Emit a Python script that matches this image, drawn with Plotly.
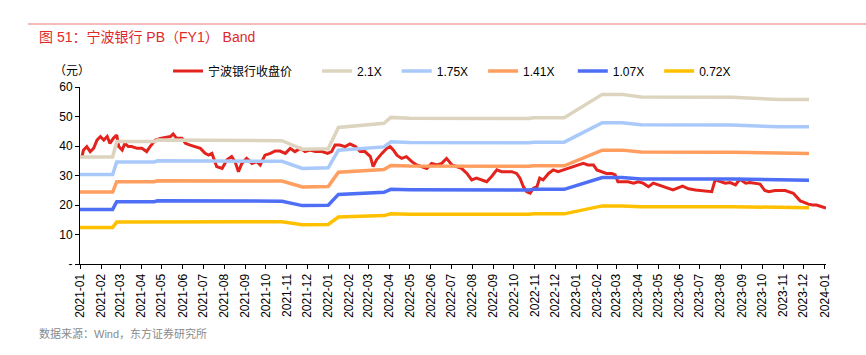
import plotly.graph_objects as go

# ---- close price (宁波银行收盘价) ----
price_dates = [
    "2021-01-04", "2021-01-06", "2021-01-11", "2021-01-16", "2021-01-21", "2021-01-26", "2021-01-31",
    "2021-02-05", "2021-02-10", "2021-02-14", "2021-02-19", "2021-02-24", "2021-02-27",
    "2021-03-04", "2021-03-08", "2021-03-13", "2021-03-18", "2021-03-26",
    "2021-04-02", "2021-04-09", "2021-04-14", "2021-04-22", "2021-04-29",
    "2021-05-06", "2021-05-14", "2021-05-18", "2021-05-23", "2021-05-31",
    "2021-06-05", "2021-06-12", "2021-06-19", "2021-06-27",
    "2021-07-04", "2021-07-09", "2021-07-14", "2021-07-21", "2021-07-29",
    "2021-08-05", "2021-08-12", "2021-08-17", "2021-08-22", "2021-08-27",
    "2021-09-03", "2021-09-11", "2021-09-18", "2021-09-23", "2021-09-30",
    "2021-10-08", "2021-10-15", "2021-10-22", "2021-10-30",
    "2021-11-06", "2021-11-13", "2021-11-21", "2021-11-28",
    "2021-12-05", "2021-12-13", "2021-12-23", "2021-12-31",
    "2022-01-06", "2022-01-11", "2022-01-18", "2022-01-26",
    "2022-02-02", "2022-02-10", "2022-02-17", "2022-02-24",
    "2022-03-04", "2022-03-08", "2022-03-13", "2022-03-21", "2022-03-28",
    "2022-04-02", "2022-04-07", "2022-04-12", "2022-04-19", "2022-04-26",
    "2022-05-04", "2022-05-11", "2022-05-19", "2022-05-26",
    "2022-06-02", "2022-06-10", "2022-06-17", "2022-06-24",
    "2022-07-02", "2022-07-09", "2022-07-16", "2022-07-24", "2022-07-31",
    "2022-08-07", "2022-08-15", "2022-08-22", "2022-08-29",
    "2022-09-06", "2022-09-13", "2022-09-20", "2022-09-28",
    "2022-10-05", "2022-10-10", "2022-10-15", "2022-10-20", "2022-10-25", "2022-10-30",
    "2022-11-04", "2022-11-08", "2022-11-13", "2022-11-21", "2022-11-28",
    "2022-12-05", "2022-12-13", "2022-12-20", "2022-12-27",
    "2023-01-04", "2023-01-11", "2023-01-18", "2023-01-26", "2023-01-31",
    "2023-02-07", "2023-02-14", "2023-02-22", "2023-02-27",
    "2023-03-03", "2023-03-11", "2023-03-18", "2023-03-26",
    "2023-04-02", "2023-04-09", "2023-04-17", "2023-04-24",
    "2023-05-01", "2023-05-09", "2023-05-16", "2023-05-23",
    "2023-06-06", "2023-06-15", "2023-06-25",
    "2023-07-05", "2023-07-15", "2023-07-19", "2023-07-24", "2023-07-31",
    "2023-08-08", "2023-08-15", "2023-08-23", "2023-08-29",
    "2023-09-07", "2023-09-13", "2023-09-20", "2023-09-28",
    "2023-10-05", "2023-10-11", "2023-10-20",
    "2023-11-04", "2023-11-16", "2023-11-26",
    "2023-12-01", "2023-12-08", "2023-12-14", "2023-12-20", "2023-12-28", "2024-01-03",
]
price_values = [
    36.4, 38.6, 39.8, 38.1, 39.2, 42.0, 43.2,
    42.0, 43.2, 40.9, 42.6, 43.7, 39.8,
    38.6, 40.9, 39.8, 39.8, 39.2,
    39.2, 38.1, 39.8, 42.0, 42.6,
    42.9, 43.2, 44.1, 42.6, 42.6,
    40.9, 40.3, 39.8, 39.2,
    37.5, 36.9, 37.5, 33.0, 32.4,
    35.3, 36.4, 34.7, 31.3, 34.1,
    35.8, 34.1, 34.7, 33.6, 36.9,
    37.5, 38.3, 38.3, 37.5,
    39.2, 38.1, 39.2, 38.1,
    38.6, 38.1, 38.1, 37.5,
    38.1, 40.3, 40.3, 39.8,
    40.7, 39.8, 38.1, 38.1,
    36.4, 33.0, 35.3, 37.5, 39.2,
    39.8, 38.6, 36.9, 35.8, 36.4,
    34.7, 33.6, 33.0, 32.4,
    34.1, 33.6, 34.1, 35.8,
    33.6, 33.0, 32.4, 30.7, 28.5,
    29.1, 28.5, 27.9, 29.6,
    31.9, 31.3, 31.3, 31.3,
    30.7, 29.1, 26.2, 24.5, 24.0, 25.7,
    26.2, 29.1, 28.5, 30.7, 31.9,
    31.3, 31.9, 32.4, 33.0,
    33.6, 34.1, 33.6, 33.6, 31.9,
    31.3, 30.7, 30.7, 30.2,
    27.9, 27.9, 27.9, 27.4,
    27.9, 27.4, 26.2, 27.4,
    26.8, 26.2, 25.7, 25.1,
    26.4, 25.5, 25.1,
    24.9, 24.5, 24.5, 28.5, 28.0,
    27.4, 27.6, 26.8, 28.7,
    27.4, 27.6, 27.4, 27.1,
    24.9, 24.5, 24.9,
    24.9, 24.0, 21.4,
    21.0, 20.3, 20.0, 20.0, 19.4, 19.0,
]

# ---- PB bands ----
band_dates = [
    "2021-01-01", "2021-02-18", "2021-02-24", "2021-04-20", "2021-04-25",
    "2021-10-25", "2021-11-24", "2022-01-01", "2022-01-16", "2022-03-24",
    "2022-04-03", "2022-05-01", "2022-10-23", "2022-10-30", "2022-12-14",
    "2023-02-08", "2023-03-09", "2023-04-06", "2023-08-18", "2023-10-26", "2023-12-09",
]
band_210 = [36.3, 36.3, 41.5, 41.5, 42.0, 41.8, 38.9, 39.1, 46.3, 47.7, 49.7,
            49.4, 49.3, 49.6, 49.6, 57.5, 57.5, 56.6, 56.5, 55.8, 55.8]
band_175 = [30.3, 30.3, 34.6, 34.6, 35.0, 34.8, 32.4, 32.6, 38.6, 39.7, 41.4,
            41.2, 41.1, 41.3, 41.3, 47.9, 47.9, 47.2, 47.1, 46.5, 46.5]
band_141 = [24.4, 24.4, 27.9, 27.9, 28.2, 28.1, 26.1, 26.3, 31.1, 32.0, 33.4,
            33.2, 33.1, 33.3, 33.3, 38.6, 38.6, 38.0, 37.9, 37.5, 37.5]
band_107 = [18.5, 18.5, 21.1, 21.1, 21.4, 21.3, 19.8, 19.9, 23.6, 24.3, 25.3,
            25.2, 25.1, 25.3, 25.3, 29.3, 29.3, 28.8, 28.8, 28.4, 28.4]
band_072 = [12.4, 12.4, 14.2, 14.2, 14.4, 14.3, 13.3, 13.4, 15.9, 16.4, 17.0,
            16.9, 16.9, 17.0, 17.0, 19.7, 19.7, 19.4, 19.4, 19.1, 19.1]

series_names = ["宁波银行收盘价", "2.1X", "1.75X", "1.41X", "1.07X", "0.72X"]
series_colors = ["#e3231d", "#ddd4bf", "#a9c9fb", "#ff9e5e", "#4d6ef5", "#ffc000"]

y_tickvals = [0, 10, 20, 30, 40, 50, 60]
y_ticktext = ["-", "10", "20", "30", "40", "50", "60"]

title_text = "图 51：宁波银行 PB（FY1） Band"
unit_text = "（元）"
source_text = "数据来源：Wind，东方证券研究所"

FONT = "Arial, 'Liberation Sans', 'Noto Sans CJK SC', sans-serif"
NBSP = "\u00a0"
legend_pad = [6, 3, 3, 4, 3, 0]

fig = go.Figure()
all_vals = [price_values, band_210, band_175, band_141, band_107, band_072]
for i, (name, color, vals) in enumerate(zip(series_names, series_colors, all_vals)):
    xs = price_dates if i == 0 else band_dates
    fig.add_trace(go.Scatter(x=xs, y=vals, mode="lines", name=name + NBSP * legend_pad[i],
                             line=dict(color=color, width=3 if i == 0 else 3.5)))

fig.update_layout(
    width=866, height=355,
    margin=dict(l=80, r=40, t=87, b=91),
    paper_bgcolor="white", plot_bgcolor="white",
    font=dict(family=FONT, size=12, color="#000"),
    showlegend=True,
    legend=dict(orientation="h", x=0.118, xanchor="left", y=1.09, yanchor="middle",
                font=dict(size=12), bgcolor="rgba(0,0,0,0)", itemwidth=30,
                tracegroupgap=0),
    xaxis=dict(type="date", range=["2021-01-01", "2024-01-03"],
               tick0="2021-01-01", dtick="M1", tickformat="%Y-%m", tickangle=-90,
               showline=True, linecolor="#000", linewidth=1,
               ticks="outside", ticklen=4, tickcolor="#000",
               showgrid=False, zeroline=False, tickfont=dict(size=12)),
    yaxis=dict(range=[0, 60], tickvals=y_tickvals, ticktext=y_ticktext,
               showline=True, linecolor="#000", linewidth=1,
               ticks="outside", ticklen=4, tickcolor="#000",
               showgrid=False, zeroline=False, tickfont=dict(size=12)),
    shapes=[dict(type="line", xref="paper", yref="paper", x0=-0.07, x1=1.06,
                 y0=1.356, y1=1.356, line=dict(color="#f2a3a3", width=1.5))],
    annotations=[
        dict(text=title_text, xref="paper", yref="paper", x=-0.058, y=1.285,
             xanchor="left", yanchor="middle", showarrow=False,
             font=dict(size=14, color="#e02a2a")),
        dict(text=unit_text, xref="paper", yref="paper", x=-0.037, y=1.09,
             xanchor="left", yanchor="middle", showarrow=False,
             font=dict(size=12, color="#000")),
        dict(text=source_text, xref="paper", yref="paper", x=-0.058, y=-0.39,
             xanchor="left", yanchor="middle", showarrow=False,
             font=dict(size=11, color="#8a8a8a")),
    ],
)

fig.write_html("out.html", config={"displayModeBar": False},
               post_script="document.body.style.margin='0';")
